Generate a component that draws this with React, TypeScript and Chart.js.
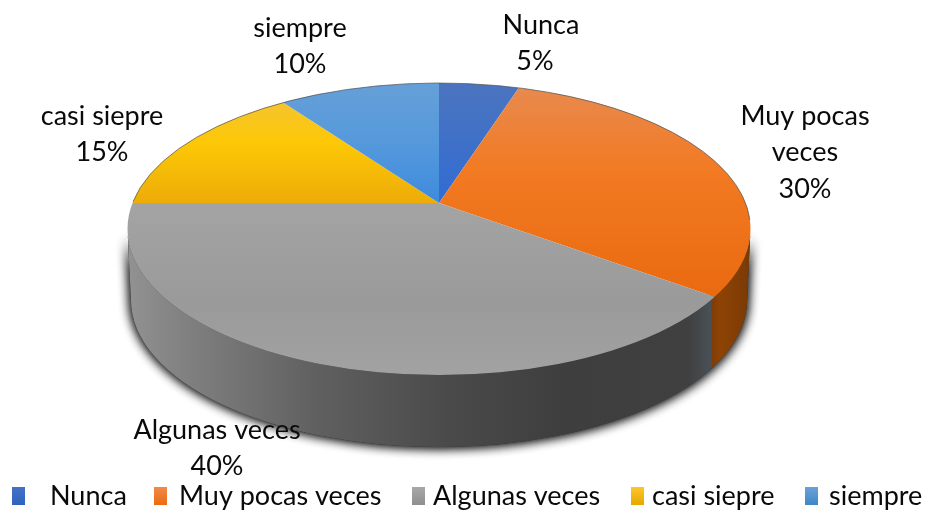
import React, { useEffect, useRef } from "react";
import { Chart, registerables } from "chart.js";

Chart.register(...registerables);

const categories = ["Nunca", "Muy pocas veces", "Algunas veces", "casi siepre", "siempre"];
const values = [5, 30, 40, 15, 10];
const labelLines = [["Nunca"], ["Muy pocas", "veces"], ["Algunas veces"], ["casi siepre"], ["siempre"]];
const baseColors = ["#4472C4", "#ED7D31", "#A5A5A5", "#FFC000", "#5B9BD5"];
const sliceStops = [
  ["#4a74bf", "#3f70c8", "#2f6cd6"],
  ["#e88a50", "#f27a22", "#e9690f"],
  ["#a4a4a4", "#9a9a9a", "#a2a2a2"],
  ["#f2c240", "#fdc806", "#ecaa08"],
  ["#659fd8", "#5599dc", "#3c8adc"],
];
const legendMarkerStops = [
  ["#4472C4", "#2f62c0"],
  ["#f08a4a", "#ec6c10"],
  ["#a8a8a8", "#8f8f8f"],
  ["#ffc62a", "#e6a800"],
  ["#6aa2d8", "#3f86c8"],
];

const FONT = "Lato, Carlito, 'Open Sans', sans-serif";
const TOP = { cx: 439, cy: 229, rx: 311.5, ry: 146 };
const BOTTOM = { cx: 439, cy: 300, rx: 308, ry: 147 };
const APEX = { x: 439, y: 203 };
const RAY_REACH = 385;
const LABEL_POS = [
  { x: 541, y: 25, pctDx: -6 },
  { x: 805, y: 116, pctDx: 0 },
  { x: 217, y: 430, pctDx: 0 },
  { x: 102, y: 116, pctDx: 0 },
  { x: 300, y: 28, pctDx: 0 },
];
const LINE_H = 36.5;
const LEGEND_MARK_X = [12, 154, 412, 631, 805];
const LEGEND_TEXT_X = [50, 179, 433, 652, 829];

function rimX(angle: number) {
  const ay = (APEX.y - TOP.cy) / TOP.ry;
  const dx = Math.cos(angle);
  const dy = Math.sin(angle);
  const b = ay * dy;
  const t = -b + Math.sqrt(b * b - (ay * ay - 1));
  return TOP.cx + TOP.rx * t * dx;
}

function wallPath(ctx: CanvasRenderingContext2D) {
  ctx.beginPath();
  ctx.ellipse(TOP.cx, TOP.cy, TOP.rx, TOP.ry, 0, Math.PI, 0, true);
  ctx.lineTo(BOTTOM.cx + BOTTOM.rx, BOTTOM.cy);
  ctx.ellipse(BOTTOM.cx, BOTTOM.cy, BOTTOM.rx, BOTTOM.ry, 0, 0, Math.PI);
  ctx.closePath();
}

const pie3d = {
  id: "pie3d",
  beforeDatasetsDraw(chart: any) {
    const ctx: CanvasRenderingContext2D = chart.ctx;
    const arcs = chart.getDatasetMeta(0).data as any[];
    const xs = rimX(arcs[2].startAngle) - 3;

    // soft shadow under the wall
    ctx.save();
    ctx.shadowColor = "rgba(0,0,0,0.9)";
    ctx.shadowBlur = 12;
    ctx.fillStyle = "#444";
    wallPath(ctx);
    ctx.fill();
    ctx.fill();
    ctx.restore();

    // grey wall
    ctx.save();
    ctx.beginPath();
    ctx.rect(0, 0, xs, 511);
    ctx.clip();
    const g = ctx.createLinearGradient(128, 0, xs, 0);
    g.addColorStop(0, "#929292");
    g.addColorStop(0.1, "#808080");
    g.addColorStop(0.32, "#606060");
    g.addColorStop(0.55, "#4a4a4a");
    g.addColorStop(0.75, "#3e3e3e");
    g.addColorStop(0.96, "#404040");
    g.addColorStop(1, "#4a5258");
    ctx.fillStyle = g;
    wallPath(ctx);
    ctx.fill();
    ctx.restore();

    // orange wall
    ctx.save();
    ctx.beginPath();
    ctx.rect(xs, 0, 928 - xs, 511);
    ctx.clip();
    const o = ctx.createLinearGradient(xs, 0, 750, 0);
    o.addColorStop(0, "#7d3c08");
    o.addColorStop(0.2, "#8e4304");
    o.addColorStop(1, "#7a3a06");
    ctx.fillStyle = o;
    wallPath(ctx);
    ctx.fill();
    ctx.restore();

    // top face: the library's arcs, flattened and clipped to the ellipse
    const ratio = TOP.ry / TOP.rx;
    ctx.save();
    ctx.beginPath();
    ctx.ellipse(TOP.cx, TOP.cy, TOP.rx, TOP.ry, 0, 0, Math.PI * 2);
    ctx.clip();
    arcs.forEach((el, i) => {
      const S = RAY_REACH / el.outerRadius;
      const sy = S * ratio;
      const toChart = (y: number) => el.y + (y - APEX.y) / sy;
      const grad = ctx.createLinearGradient(0, toChart(85), 0, toChart(375));
      const stops = sliceStops[i];
      const span = i === 2 ? [0.4, 0.75, 1] : i === 1 ? [0, 0.3, 0.75] : [0, 0.2, 0.42];
      stops.forEach((c, k) => grad.addColorStop(span[k], c));
      const proxy = Object.create(el);
      proxy.options = Object.create(el.options);
      proxy.options.backgroundColor = grad;
      proxy.options.borderWidth = 0;
      ctx.save();
      ctx.translate(APEX.x, APEX.y);
      ctx.scale(S, sy);
      ctx.translate(-el.x, -el.y);
      el.draw.call(proxy, ctx);
      ctx.restore();
    });
    ctx.restore();

    // thin dark rim on the back edge
    ctx.save();
    ctx.strokeStyle = "rgba(80,80,80,0.7)";
    ctx.lineWidth = 1;
    ctx.beginPath();
    ctx.ellipse(TOP.cx, TOP.cy, TOP.rx, TOP.ry, 0, Math.PI * 1.06, Math.PI * 1.98);
    ctx.stroke();
    ctx.restore();
    return false;
  },
  afterDraw(chart: any) {
    const ctx: CanvasRenderingContext2D = chart.ctx;
    const data: number[] = chart.data.datasets[0].data;
    const total = data.reduce((a, b) => a + b, 0);
    ctx.save();
    ctx.fillStyle = "#0a0a0a";
    ctx.font = `27px ${FONT}`;
    ctx.textBaseline = "middle";
    ctx.textAlign = "center";
    labelLines.forEach((lines, i) => {
      const p = LABEL_POS[i];
      lines.forEach((t, k) => ctx.fillText(t, p.x, p.y + k * LINE_H));
      ctx.fillText(`${Math.round((data[i] / total) * 100)}%`, p.x + p.pctDx, p.y + lines.length * LINE_H);
    });
    ctx.textAlign = "left";
    (chart.data.labels as string[]).forEach((t, i) => {
      const mx = LEGEND_MARK_X[i];
      const g = ctx.createLinearGradient(0, 487, 0, 505);
      g.addColorStop(0, legendMarkerStops[i][0]);
      g.addColorStop(1, legendMarkerStops[i][1]);
      ctx.fillStyle = g;
      ctx.fillRect(mx, 487, 13, 18);
      ctx.fillStyle = "#0a0a0a";
      ctx.fillText(t, LEGEND_TEXT_X[i], 496);
    });
    ctx.restore();
  },
};

export default function App() {
  const ref = useRef<HTMLCanvasElement>(null);
  useEffect(() => {
    const chart = new Chart(ref.current!, {
      type: "pie",
      data: {
        labels: categories,
        datasets: [{ data: values, backgroundColor: baseColors, borderWidth: 0 }],
      },
      options: {
        responsive: false,
        animation: false,
        plugins: { legend: { display: false }, tooltip: { enabled: false } },
      },
      plugins: [pie3d],
    } as any);
    return () => chart.destroy();
  }, []);
  return (
    <div style={{ position: "fixed", left: 0, top: 0, width: 928, height: 511, background: "#fff" }}>
      <canvas ref={ref} width={928} height={511} style={{ display: "block" }} />
    </div>
  );
}
